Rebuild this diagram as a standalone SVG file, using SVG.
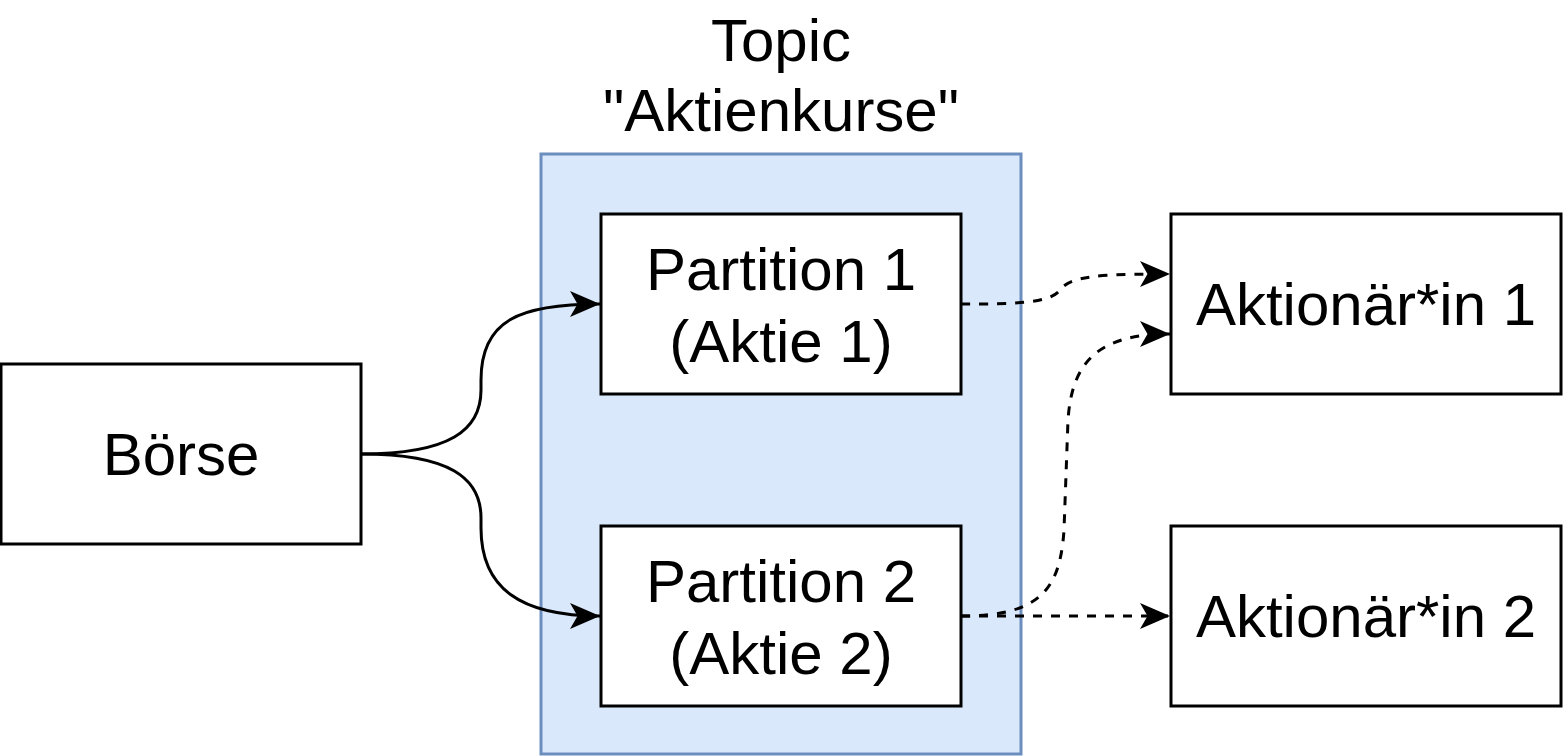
<svg xmlns="http://www.w3.org/2000/svg" width="1563" height="756" viewBox="0 0 1563 756">
<defs>
<style>
.box{fill:#ffffff;stroke:#000000;stroke-width:3}
.lbl{font-family:"Liberation Sans",Arial,sans-serif;font-size:60px;fill:#000000;text-anchor:middle}
.edge{fill:none;stroke:#000000;stroke-width:3}
.dash{stroke-dasharray:9 9}
</style>
<marker id="arr" viewBox="0 0 20 20" refX="19" refY="10" markerWidth="9" markerHeight="9" markerUnits="userSpaceOnUse" orient="auto">
<path d="M0,0 L20,10 L0,20 L5,10 Z" fill="#000000"/>
</marker>
<marker id="arrow" viewBox="0 0 30 26" refX="30" refY="13" markerWidth="30" markerHeight="26" markerUnits="userSpaceOnUse" orient="auto">
<path d="M0,0 L30,13 L0,26 L7.5,13 Z" fill="#000000"/>
</marker>
</defs>
<rect width="1563" height="756" fill="#ffffff"/>
<g id="topic">
<rect x="541" y="154" width="480" height="600" fill="#dae8fc" stroke="#6c8ebf" stroke-width="3"/>
<text class="lbl" x="781" y="61">Topic</text>
<text class="lbl" x="781" y="131">"Aktienkurse"</text>
</g>
<g id="boerse">
<rect class="box" x="1" y="364" width="360" height="180"/>
<text class="lbl" x="181" y="475">Börse</text>
</g>
<g id="partition1">
<rect class="box" x="601" y="214" width="360" height="180"/>
<text class="lbl" x="781" y="290">Partition 1</text>
<text class="lbl" x="781" y="362">(Aktie 1)</text>
</g>
<g id="partition2">
<rect class="box" x="601" y="526" width="360" height="180"/>
<text class="lbl" x="781" y="602">Partition 2</text>
<text class="lbl" x="781" y="674">(Aktie 2)</text>
</g>
<g id="aktionaer1">
<rect class="box" x="1171" y="214" width="390" height="180"/>
<text class="lbl" x="1366" y="325">Aktionär*in 1</text>
</g>
<g id="aktionaer2">
<rect class="box" x="1171" y="526" width="390" height="180"/>
<text class="lbl" x="1366" y="637">Aktionär*in 2</text>
</g>
<g id="connectors">
<path class="edge" d="M361,454 C450,454 481,430 481,390 L481,380 C481,320 520,304 600,304" marker-end="url(#arrow)"/>
<path class="edge" d="M361,454 C450,454 481,478 481,518 L481,528 C481,588 520,616 600,616" marker-end="url(#arrow)"/>
<path class="edge dash" d="M961,304 C1010,304 1050,304 1060,290 C1070,276 1100,274 1170,274" marker-end="url(#arrow)"/>
<path class="edge dash" d="M961,616 C1040,616 1060,590 1064,530 L1068,420 C1072,360 1100,334 1170,334" marker-end="url(#arrow)"/>
<path class="edge dash" d="M961,616 L1170,616" marker-end="url(#arrow)"/>
</g>
</svg>
